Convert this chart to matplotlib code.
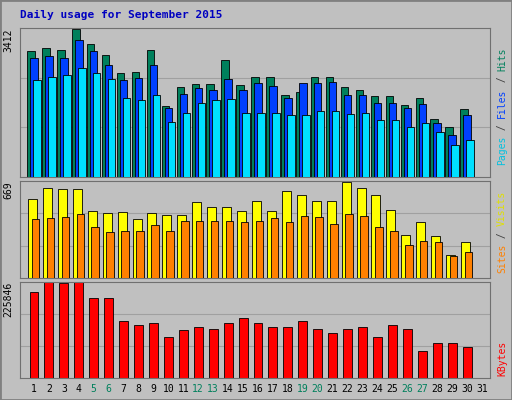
import matplotlib
matplotlib.use("Agg")
import matplotlib.pyplot as plt
from matplotlib.patches import Rectangle

days = list(range(1, 32))
hits = [2885,2954,2908,3389,3046,2794,2381,2404,2908,1626,2061,2130,2130,2679,2107,2290,2290,1878,1946,2290,2290,2061,1992,1855,1855,1649,1809,1328,1145,1557,0]
files = [2725,2770,2725,3137,2885,2565,2220,2267,2565,1580,1900,2038,1992,2244,1992,2152,2084,1810,2152,2152,2175,1878,1878,1694,1694,1580,1672,1237,962,1420,0]
pages = [2222,2290,2336,2496,2382,2244,1810,1764,1878,1260,1466,1695,1764,1786,1466,1466,1466,1420,1420,1512,1512,1443,1466,1306,1306,1146,1237,1031,733,847,0]
visits = [542,620,613,613,465,451,458,409,451,437,437,521,493,493,465,528,465,598,570,528,528,662,620,570,472,296,387,289,162,246,0]
sites = [408,415,422,444,352,317,324,324,366,324,394,394,394,394,387,394,415,387,430,422,373,444,430,352,324,225,253,246,155,176,0]
kbytes = [201813,225846,223443,225846,187399,187399,134535,124924,129730,96093,112911,120118,115313,129730,141744,129730,120118,120118,134535,115313,105700,115313,120118,96093,124924,115313,62462,81684,81684,72073,0]
weekends = [5,6,12,13,19,20,26,27]

BG = "#C0C0C0"
W, H = 512, 400
fig = plt.figure(figsize=(5.12, 4.0), dpi=100, facecolor=BG)
fig.patches.append(Rectangle((0, 0), 1, 1, transform=fig.transFigure, fill=False, ec="#808080", lw=2))
fig.text(20/W, 1-15/H, "Daily usage for September 2015", color="#0000C0",
         family="DejaVu Sans Mono", fontweight="bold", fontsize=8, va="center")

def px_axes(top, bottom):
    return fig.add_axes([20/W, 1-bottom/H, (490-20)/W, (bottom-top)/H])

x0, x1 = 1 - 14/14.93, 31 + 8/14.93

def style(ax, maxv, label):
    ax.set_facecolor(BG)
    ax.set_xlim(x0, x1)
    ax.set_ylim(0, maxv)
    ax.set_xticks([]); ax.set_yticks([])
    for v in (maxv/3, 2*maxv/3):
        ax.axhline(v, color="#A0A0A0", lw=0.8, zorder=0)
    for s in ax.spines.values():
        s.set_color("#707070")
    ax.text(-0.015, 1.0, label, transform=ax.transAxes, rotation=90, ha="right",
            va="top", family="DejaVu Sans Mono", fontsize=7)

# right labels: one character step = 7 px in monospace 7pt rotated
def rlabel(top_px, parts):
    xpx = 497
    y = top_px
    for txt, col in parts:
        fig.text(xpx/W, 1-y/H, txt, rotation=90, ha="left", va="top",
                 family="DejaVu Sans Mono", fontsize=7, color=col)
        y += len(txt) * 5.9

ax1 = px_axes(28, 177)
style(ax1, 3412, "3412")
ax1.bar([d-0.2 for d in days], hits, width=0.5, color="#00805C", ec="black", lw=0.6, zorder=2)
ax1.bar(days, files, width=0.5, color="#0040FF", ec="black", lw=0.6, zorder=3)
ax1.bar([d+0.2 for d in days], pages, width=0.5, color="#00E0FF", ec="black", lw=0.6, zorder=4)
rlabel(30, [("Hits", "#00805C"), (" / ", "#404040"), ("Files", "#0040FF"), (" / ", "#404040"), ("Pages", "#00C0E0")][::-1][::-1] and
       [("Hits", "#00805C")])

ax2 = px_axes(181, 278)
style(ax2, 669, "669")
ax2.bar([d-0.1 for d in days], visits, width=0.6, color="#FFFF00", ec="black", lw=0.6, zorder=2)
ax2.bar([d+0.1 for d in days], sites, width=0.5, color="#FF8000", ec="black", lw=0.6, zorder=3)

ax3 = px_axes(282, 378)
style(ax3, 225846, "225846")
ax3.bar(days, kbytes, width=0.6, color="#FF0000", ec="black", lw=0.6, zorder=2)

fig.texts = [t for t in fig.texts if t.get_text() != "Hits"]

def stack_label(bottom_px, parts):
    # rotated text reads bottom-to-top; parts listed from bottom to top
    y = bottom_px
    for txt, col in parts:
        fig.text(497/W, 1-y/H, txt, rotation=90, ha="left", va="bottom",
                 family="DejaVu Sans Mono", fontsize=7, color=col)
        y -= len(txt) * 5.9

stack_label(165, [("Pages", "#00C0E0"), (" / ", "#404040"), ("Files", "#0040FF"), (" / ", "#404040"), ("Hits", "#00805C")])
stack_label(273, [("Sites", "#FF8000"), (" / ", "#404040"), ("Visits", "#E0E000")])
stack_label(376, [("KBytes", "#FF0000")])

for d in days:
    fig.text((20 + (d - x0) * 14.93) / W, 1-389/H, str(d), ha="center", va="center",
             family="DejaVu Sans Mono", fontsize=7,
             color="#00805C" if d in weekends else "black")

fig.savefig("out.png", dpi=100, facecolor=BG)
